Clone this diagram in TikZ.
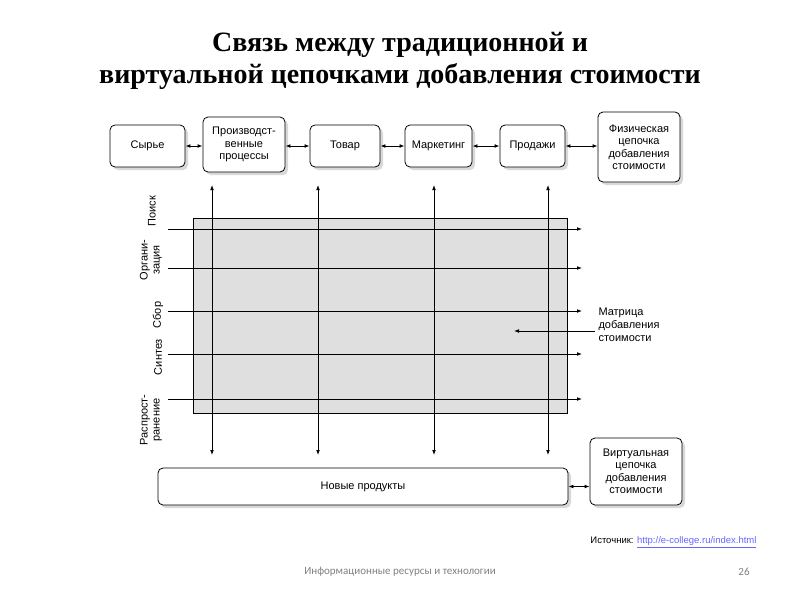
\documentclass[tikz,border=0pt]{standalone}
\usepackage{fontspec}
\setmainfont{Liberation Sans}
\newfontfamily\titlefont{Liberation Serif}
\newfontfamily\footfont{Carlito}
\usetikzlibrary{shadows,arrows.meta}
\begin{document}
\begin{tikzpicture}[x=1pt,y=-1pt,
  box/.style={draw,thick,rounded corners=5pt,fill=white,align=center,font=\fontsize{11}{12.5}\selectfont,inner sep=2pt,
    drop shadow={shadow xshift=3pt,shadow yshift=-3pt,fill=gray!60}},
  dar/.style={{Latex[length=5pt]}-{Latex[length=5pt]},thick},
  ar/.style={-{Latex[length=5pt]},thick},
  lab/.style={rotate=90,align=center,font=\fontsize{11}{12}\selectfont}]
\useasboundingbox (0,0) rectangle (800,600);
\node[font=\titlefont\bfseries\fontsize{28}{32}\selectfont,align=center] (title) at (400,61) {Связь между традиционной и\\виртуальной цепочками добавления стоимости};
% grey matrix
\node[draw,fill=gray!25,minimum width=374pt,minimum height=195pt,inner sep=0pt] (mat) at (380,315.5) {};
% top boxes
\node[box,minimum width=75pt,minimum height=42pt] (s) at (147.5,146) {Сырье};
\node[box,minimum width=82pt,minimum height=55pt] (p) at (244,144.5) {Производст-\\венные\\процессы};
\node[box,minimum width=70pt,minimum height=42pt] (t) at (345,146) {Товар};
\node[box,minimum width=67pt,minimum height=42pt] (m) at (438.5,146) {Маркетинг};
\node[box,minimum width=65pt,minimum height=42pt] (pr) at (532.5,146) {Продажи};
\node[box,minimum width=82pt,minimum height=70pt] (f) at (639,147) {Физическая\\цепочка\\добавления\\стоимости};
\draw[dar] (s.east) -- (p.west|-s.east);
\draw[dar] (p.east|-t.west) -- (t.west);
\draw[dar] (t) -- (m);
\draw[dar] (m) -- (pr);
\draw[dar] (pr.east) -- (f.west|-pr.east);
% bottom boxes
\node[box,minimum width=410pt,minimum height=37pt] (n) at (363,486.5) {Новые продукты};
\node[box,minimum width=92pt,minimum height=67pt] (v) at (636,471.5) {Виртуальная\\цепочка\\добавления\\стоимости};
\draw[dar] (n.east) -- (v.west|-n.east);
% vertical arrows
\foreach \x/\i in {212/1,318/2,434/3,548/4}{
  \coordinate (vt\i) at (\x,185);
  \coordinate (vb\i) at (\x,455);
  \draw[dar] (vt\i) -- (vb\i);
}
% horizontal lines
\foreach \y/\i in {229/1,268/2,311/3,354/4,399/5}{
  \coordinate (hl\i) at (168,\y);
  \coordinate (hr\i) at (582,\y);
  \draw[ar] (hl\i) -- (hr\i);
}
\node[lab] (l1) at (152,211) {Поиск};
\node[lab] (l2) at (151,260) {Органи-\\зация};
\node[lab] (l3) at (158,315) {Сбор};
\node[lab] (l4) at (158,357) {Синтез};
\node[lab] (l5) at (151,420) {Распрост-\\ранение};
\node[align=left,anchor=west,font=\fontsize{11}{13}\selectfont] (ml) at (595,325) {Матрица\\добавления\\стоимости};
\coordinate (ma) at (514,331);
\draw[ar] (ml.west|-ma) -- (ma);
\node[anchor=east,font=\fontsize{9.5}{10}\selectfont] (src) at (760,542) {Источник: \textcolor{blue!60}{\underline{http://e-college.ru/index.html}}};
\node[font=\footfont\fontsize{11}{12}\selectfont,text=gray] (ft) at (400,572) {Информационные ресурсы и технологии};
\node[font=\footfont\fontsize{11}{12}\selectfont,text=gray] (pg) at (744,572) {26};
\end{tikzpicture}
\end{document}
